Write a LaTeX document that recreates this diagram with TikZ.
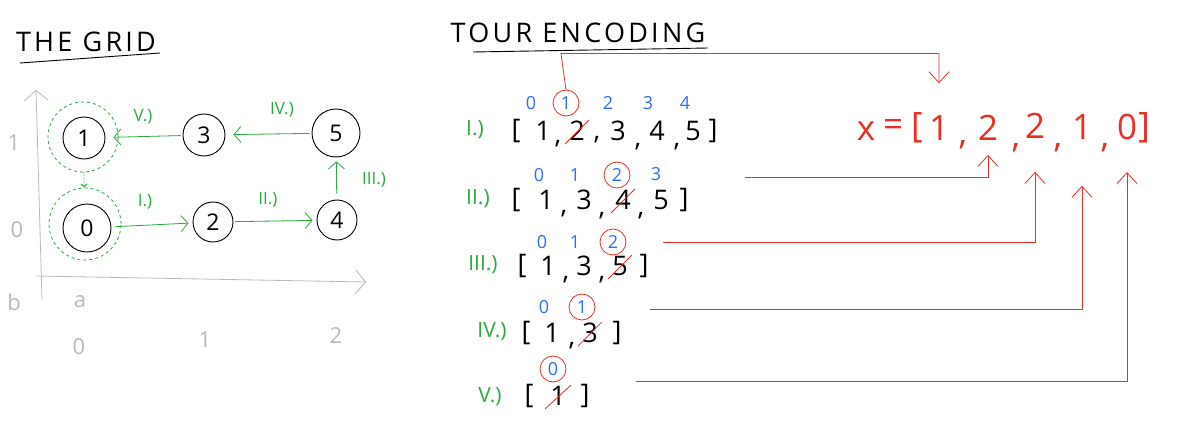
\documentclass[tikz,border=0pt]{standalone}
\usepackage{fontspec}
\setmainfont{Open Sans}
\newfontfamily\ttlfont[LetterSpace=12]{Open Sans}
\usetikzlibrary{arrows.meta}
\definecolor{pgreen}{RGB}{40,170,60}
\definecolor{pred}{RGB}{235,45,35}
\definecolor{pblue}{RGB}{45,110,250}
\definecolor{pgray}{RGB}{185,185,185}
\begin{document}
\begin{tikzpicture}[x=1pt,y=-1pt,
  vnode/.style={circle,draw,line width=0.9pt,minimum size=#1,inner sep=0pt,font=\fontsize{23}{23}\selectfont},
  vnode/.default=42pt,
  dring/.style={circle,draw=pgreen,dashed,line width=0.8pt,minimum size=#1,inner sep=0pt},
  dring/.default=70pt,
  val/.style={font=\fontsize{27}{27}\selectfont,inner sep=1pt},
  idx/.style={text=pblue,font=\fontsize{18}{18}\selectfont,inner sep=1pt},
  hit/.style={idx,circle,draw=pred,line width=0.8pt,minimum size=26pt,inner sep=0pt},
  roman/.style={text=pgreen,font=\fontsize{21}{21}\selectfont,inner sep=1pt},
  groman/.style={text=pgreen,font=\fontsize{17}{17}\selectfont,inner sep=1pt},
  eq/.style={text=pred,font=\fontsize{35}{35}\selectfont,inner sep=1pt},
  glabel/.style={text=pgray,font=\fontsize{22}{22}\selectfont,inner sep=1pt},
  ttl/.style={font=\ttlfont\fontsize{27}{27}\selectfont,inner sep=1pt},
  garrow/.style={draw=pgreen,line width=0.8pt,-{Straight Barb[length=7pt,width=16pt]}},
  rarrow/.style={draw=pred,line width=0.8pt,-{Straight Barb[length=11pt,width=20pt]}},
  axis/.style={draw=pgray,line width=0.8pt,-{Straight Barb[length=10pt,width=24pt]}},
  strike/.style={draw=pred,line width=0.8pt},
  uline/.style={draw,line width=0.9pt}
]
\useasboundingbox (0,0) rectangle (1184,444);

% ---------------- THE GRID ----------------
\node[ttl] (tgrid) at (86,42) {THE GRID};
\coordinate (tgl) at (20,63);
\coordinate (tgr) at (160,53);
\draw[uline] (tgl) -- (tgr);

% axes
\coordinate (ybot) at (42,300);
\coordinate (ytop) at (36,90);
\coordinate (xl) at (36,276);
\coordinate (xr) at (366,282);
\draw[axis] (ybot) -- (ytop);
\draw[axis] (xl) -- (xr);
\node[glabel] (ly1) at (14,143) {1};
\node[glabel] (ly0) at (17,230) {0};
\node[glabel] (lb) at (14,302) {b};
\node[glabel] (la) at (80,302) {a};
\node[glabel] (lx0) at (79,347) {0};
\node[glabel] (lx1) at (205,340) {1};
\node[glabel] (lx2) at (336,336) {2};

% vertices
\node[vnode] (n1) at (84,138) {1};
\node[vnode] (n3) at (204,135) {3};
\node[vnode=48pt] (n5) at (336,133) {5};
\node[vnode=48pt] (n0) at (87,228) {0};
\node[vnode=40pt] (n2) at (213,222) {2};
\node[vnode=40pt] (n4) at (337,220) {4};

% start / end rings
\node[dring] (d1) at (83,137) {};
\node[dring=72pt] (d0) at (85,224) {};
\draw[pgreen,dotted,line width=1pt,-{Straight Barb[length=3pt,width=6pt]}] (d1) -- (d0);

% tour arrows
\draw[garrow,shorten <=4pt,shorten >=4pt] (n0) -- (n2);
\draw[garrow,shorten <=2pt,shorten >=4pt] (n2) -- (n4);
\draw[garrow,shorten <=6pt,shorten >=4pt] (n4) -- (n5);
\draw[garrow,shorten <=2pt,shorten >=8pt] (n5) -- (n3);
\draw[garrow,shorten <=2pt,shorten >=8pt] (n3) -- (n1);
\node[groman] (g1) at (145,202) {I.)};
\node[groman] (g2) at (268,200) {II.)};
\node[groman] (g3) at (374,180) {III.)};
\node[groman] (g4) at (282,110) {IV.)};
\node[groman] (g5) at (143,117) {V.)};

% ---------------- TOUR ENCODING ----------------
\node[ttl] (tenc) at (578,33) {TOUR ENCODING};
\coordinate (tel) at (473,52);
\coordinate (ter) at (708,48);
\draw[uline] (tel) -- (ter);

% row I
\node[roman] (rI) at (475,130) {I.)};
\node[idx] (r1i0) at (531,103) {0};
\node[hit] (r1i1) at (566,103) {1};
\node[idx] (r1i2) at (608,103) {2};
\node[idx] (r1i3) at (648,103) {3};
\node[idx] (r1i4) at (685,103) {4};
\node[val] (r1b) at (516,131) {[};
\node[val] (r1v1) at (543,131) {1};
\node[val] (r1c1) at (558,144) {,};
\node[val] (r1v2) at (577,131) {2};
\node[val] (r1c2) at (597,140) {,};
\node[val] (r1v3) at (618,131) {3};
\node[val] (r1c3) at (638,147) {,};
\node[val] (r1v4) at (657,131) {4};
\node[val] (r1c4) at (677,147) {,};
\node[val] (r1v5) at (693,131) {5};
\node[val] (r1e) at (713,131) {]};
\draw[strike] ([xshift=-3pt,yshift=-2pt]r1v2.south west) -- ([xshift=3pt]r1v2.north east);

% row II
\node[roman] (rII) at (478,199) {II.)};
\node[idx] (r2i0) at (539,175) {0};
\node[idx] (r2i1) at (575,175) {1};
\node[hit] (r2i2) at (617,175) {2};
\node[idx] (r2i3) at (656,174) {3};
\node[val] (r2b) at (516,200) {[};
\node[val] (r2v1) at (546,200) {1};
\node[val] (r2c1) at (564,214) {,};
\node[val] (r2v2) at (584,200) {3};
\node[val] (r2c2) at (602,216) {,};
\node[val] (r2v3) at (623,200) {4};
\node[val] (r2c3) at (641,216) {,};
\node[val] (r2v4) at (661,200) {5};
\node[val] (r2e) at (684,200) {]};
\draw[strike] ([xshift=-3pt,yshift=-2pt]r2v3.south west) -- ([xshift=3pt]r2v3.north east);

% row III
\node[roman] (rIII) at (483,265) {III.)};
\node[idx] (r3i0) at (542,242) {0};
\node[idx] (r3i1) at (575,242) {1};
\node[hit] (r3i2) at (613,242) {2};
\node[val] (r3b) at (522,266) {[};
\node[val] (r3v1) at (548,266) {1};
\node[val] (r3c1) at (566,280) {,};
\node[val] (r3v2) at (584,266) {3};
\node[val] (r3c2) at (602,280) {,};
\node[val] (r3v3) at (620,266) {5};
\node[val] (r3e) at (644,266) {]};
\draw[strike] ([xshift=-3pt,yshift=-2pt]r3v3.south west) -- ([xshift=3pt]r3v3.north east);

% row IV
\node[roman] (rIV) at (492,332) {IV.)};
\node[idx] (r4i0) at (544,307) {0};
\node[hit] (r4i1) at (582,307) {1};
\node[val] (r4b) at (526,333) {[};
\node[val] (r4v1) at (552,333) {1};
\node[val] (r4c1) at (572,346) {,};
\node[val] (r4v2) at (590,333) {3};
\node[val] (r4e) at (617,333) {]};
\draw[strike] ([xshift=-3pt,yshift=-2pt]r4v2.south west) -- ([xshift=3pt]r4v2.north east);

% row V
\node[roman] (rV) at (490,397) {V.)};
\node[hit] (r5i0) at (553,369) {0};
\node[val] (r5b) at (529,396) {[};
\node[val] (r5v1) at (558,396) {1};
\node[val] (r5e) at (585,396) {]};
\draw[strike] ([xshift=-4pt,yshift=-2pt]r5v1.south west) -- ([xshift=4pt]r5v1.north east);

% result
\node[eq] (xx) at (866,131) {x};
\node[eq] (xeq) at (893,128) {=};
\node[eq] (xb) at (917,128) {[};
\node[eq] (x1) at (939,128) {1};
\node[eq] (xc1) at (963,145) {,};
\node[eq] (x2) at (988,128) {2};
\node[eq] (xc2) at (1016,148) {,};
\node[eq] (x3) at (1035,126) {2};
\node[eq] (xc3) at (1058,148) {,};
\node[eq] (x4) at (1082,127) {1};
\node[eq] (xc4) at (1105,148) {,};
\node[eq] (x5) at (1127,127) {0};
\node[eq] (xe) at (1144,128) {]};

% mapping connectors
\coordinate (s2) at (745,177);
\coordinate (s3) at (663,242);
\coordinate (s4) at (650,309);
\coordinate (s5) at (636,381);
\draw[rarrow,shorten >=31pt] (r1i1.north) -- ++(-5,-36) -| (x1.north);
\draw[rarrow,shorten >=13pt] (s2) -| (x2.south);
\draw[rarrow,shorten >=32pt] (s3) -| (x3.south);
\draw[rarrow,shorten >=45pt] (s4) -| (x4.south);
\draw[rarrow,shorten >=31pt] (s5) -| (x5.south);
\end{tikzpicture}
\end{document}
